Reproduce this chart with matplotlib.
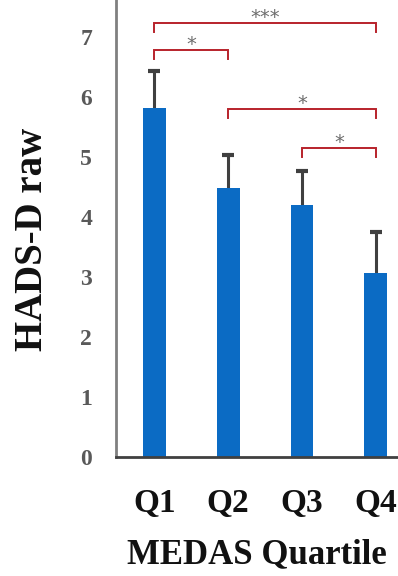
import matplotlib
matplotlib.use("Agg")
import matplotlib.pyplot as plt

categories = ["Q1", "Q2", "Q3", "Q4"]
means = [5.82, 4.48, 4.20, 3.07]
errors = [0.61, 0.55, 0.57, 0.68]
y_ticks = [0, 1, 2, 3, 4, 5, 6, 7]

# significance brackets: (left index, right index, bar height, label)
brackets = [
    (0, 3, 7.23, "***"),
    (0, 1, 6.78, "*"),
    (1, 3, 5.80, "*"),
    (2, 3, 5.15, "*"),
]

serif = ["Liberation Serif", "DejaVu Serif"]

fig = plt.figure(figsize=(3.98, 5.76), dpi=100)
ax = fig.add_axes([0.291, 0.2066, 0.709, 0.7934])

x = list(range(len(categories)))
# error bars sit behind the bars so only the upper half shows
ax.errorbar(x, means, yerr=errors, fmt="none",
            ecolor="#404040", elinewidth=2.2, capsize=4, capthick=3, zorder=1)
ax.bar(x, means, width=0.31, color="#0b6bc4", zorder=2)

red = "#b8232b"
drop = 0.14
for i, j, h, lab in brackets:
    ax.plot([i, i, j, j], [h - drop, h, h, h - drop], color=red, lw=1.4,
            solid_joinstyle="miter", zorder=4)
    ax.text((i + j) / 2, h, lab, ha="center", va="baseline",
            fontsize=14, color="#6e6e6e", family="DejaVu Sans")

ax.set_xlim(-0.52, 3.3)
ax.set_ylim(0, 7.62)
ax.set_yticks(y_ticks)
ax.set_yticklabels([str(t) for t in y_ticks], family=serif, fontsize=17,
                   fontweight="bold", color="#595959")
ax.set_xticks(x)
ax.set_xticklabels(categories, family=serif, fontsize=24, fontweight="bold",
                   color="#111111")
ax.tick_params(axis="both", length=0)
ax.tick_params(axis="y", pad=17)
ax.tick_params(axis="x", pad=22)

for s in ("top", "right"):
    ax.spines[s].set_visible(False)
ax.spines["left"].set_color("#808080")
ax.spines["left"].set_linewidth(2)
ax.spines["bottom"].set_color("#404040")
ax.spines["bottom"].set_linewidth(2)

ax.set_ylabel("HADS-D raw", family=serif, fontsize=28, fontweight="bold",
              color="#111111")
ax.yaxis.set_label_coords(-0.228, 0.477)
ax.set_xlabel("MEDAS Quartile", family=serif, fontsize=25, fontweight="bold",
              color="#111111", labelpad=14)

fig.savefig("out.png", dpi=100)
